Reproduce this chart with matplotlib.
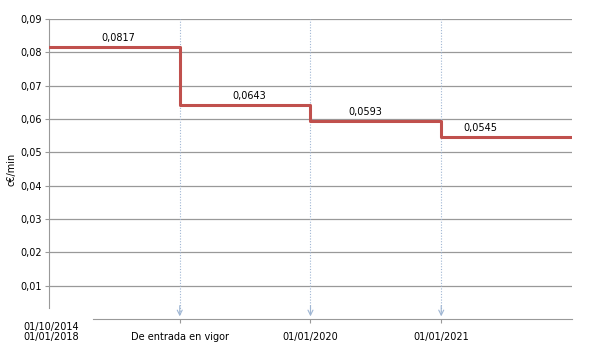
import numpy as np
import matplotlib.pyplot as plt

# tramos de precio (c€/min)
fechas = ["01/10/2014\n01/01/2018", "De entrada en vigor", "01/01/2020", "01/01/2021"]
precios = [0.0817, 0.0643, 0.0593, 0.0545]
yticks = [0.01, 0.02, 0.03, 0.04, 0.05, 0.06, 0.07, 0.08, 0.09]

plt.rcParams['font.family'] = ['DejaVu Sans']
fig = plt.figure(figsize=(5.96, 3.57), dpi=100)
ax = fig.add_axes([0.0822, 0.1064, 0.8775, 0.8404])

x = np.arange(len(precios) + 1)
y = precios + [precios[-1]]

ax.set_xlim(0, len(precios))
ax.set_ylim(0, 0.09)

gris = "#999999"
for t in yticks:
    ax.axhline(t, color=gris, lw=0.9, zorder=1)

# flechas de entrada en vigor
for k in range(1, len(precios)):
    ax.vlines(k, 0.0015, 0.09, colors="#9fb6d3", linestyles=(0, (1, 1.5)), lw=0.8, zorder=2)
    ax.annotate("", xy=(k, 0.0008), xytext=(k, 0.004),
                arrowprops=dict(arrowstyle="->", color="#9fb6d3", lw=0.8,
                                mutation_scale=9, shrinkA=0, shrinkB=0))

ax.step(x, y, where="post", color="#c0504d", lw=2.2, zorder=3)

offsets = [0.03, 0.03, -0.08, -0.2]
for i, p in enumerate(precios):
    ax.text(i + 0.5 + offsets[i], p + 0.0012, f"{p:.4f}".replace(".", ","),
            ha="center", va="bottom", fontsize=7)

ax.set_yticks(yticks)
ax.set_yticklabels([f"{t:.2f}".replace(".", ",") for t in yticks], fontsize=7)
ax.set_xticks(range(1, len(precios)))
ax.set_xticklabels(fechas[1:], fontsize=7)
ax.tick_params(axis="y", length=3, color=gris, pad=2)
ax.tick_params(axis="x", length=3, color=gris, pad=6)
ax.text(0.02, -0.0008, fechas[0], ha="center", va="top", fontsize=7, linespacing=1.1)

for s in ["top", "right"]:
    ax.spines[s].set_visible(False)
ax.spines["left"].set_color(gris)
ax.spines["left"].set_bounds(0.0033, 0.09)
ax.spines["bottom"].set_color(gris)
ax.spines["bottom"].set_bounds(0.34, len(precios))

ax.set_ylabel("c€/min", fontsize=7, labelpad=3)

fig.savefig("out.png", dpi=100)
